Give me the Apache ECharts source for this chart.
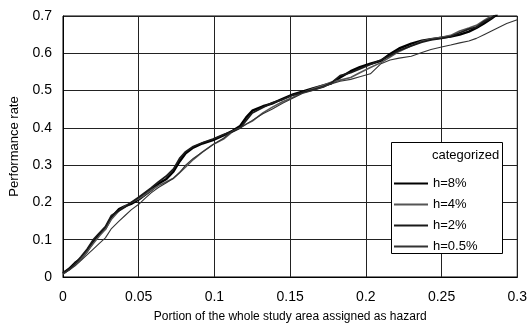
<!DOCTYPE html>
<html>
<head>
<meta charset="utf-8">
<script src="https://cdn.jsdelivr.net/npm/echarts@6/dist/echarts.min.js"></script>
<style>html,body{margin:0;padding:0;background:#fff;}#c{width:530px;height:328px;}</style>
</head>
<body>
<div id="c"></div>
<script>
const xTickLabels = ['0','0.05','0.1','0.15','0.2','0.25','0.3'];
const yTickLabels = ['0','0.1','0.2','0.3','0.4','0.5','0.6','0.7'];
const seriesNames = ['h=8%','h=4%','h=2%','h=0.5%'];
const xs = [0,0.004,0.008,0.012,0.016,0.02,0.024,0.028,0.032,0.037,0.041,0.045,0.05,0.054,0.058,0.063,0.068,0.073,0.077,0.081,0.086,0.092,0.099,0.106,0.112,0.117,0.121,0.125,0.132,0.138,0.145,0.152,0.158,0.165,0.172,0.177,0.183,0.19,0.196,0.203,0.21,0.216,0.222,0.23,0.237,0.243,0.25,0.256,0.262,0.268,0.273,0.278,0.283,0.287,0.293,0.3];
const h8 = [0.01,0.022,0.038,0.05,0.07,0.095,0.115,0.13,0.16,0.182,0.19,0.196,0.208,0.22,0.232,0.25,0.262,0.283,0.31,0.332,0.347,0.358,0.367,0.38,0.392,0.405,0.428,0.446,0.458,0.465,0.478,0.49,0.497,0.506,0.514,0.519,0.535,0.552,0.563,0.572,0.58,0.598,0.613,0.626,0.634,0.638,0.642,0.645,0.65,0.658,0.668,0.68,0.693,0.705];
const h4 = [0.008,0.02,0.035,0.05,0.068,0.09,0.11,0.128,0.155,0.178,0.19,0.2,0.21,0.22,0.232,0.245,0.255,0.265,0.28,0.295,0.315,0.335,0.355,0.37,0.39,0.4,0.41,0.418,0.44,0.455,0.47,0.482,0.494,0.505,0.515,0.522,0.528,0.535,0.548,0.562,0.575,0.59,0.605,0.62,0.632,0.638,0.643,0.648,0.66,0.668,0.675,0.688,0.7,0.712];
const h2 = [0.012,0.02,0.036,0.055,0.075,0.1,0.118,0.135,0.165,0.178,0.188,0.2,0.214,0.226,0.238,0.255,0.27,0.29,0.318,0.336,0.35,0.36,0.37,0.382,0.39,0.4,0.42,0.44,0.455,0.467,0.476,0.488,0.495,0.502,0.51,0.52,0.54,0.548,0.558,0.57,0.582,0.594,0.608,0.62,0.63,0.636,0.64,0.645,0.655,0.665,0.67,0.685,0.695,0.708];
const h05 = [0.008,0.018,0.03,0.045,0.06,0.075,0.09,0.105,0.13,0.15,0.165,0.18,0.195,0.21,0.225,0.24,0.252,0.265,0.28,0.3,0.318,0.335,0.355,0.372,0.392,0.4,0.41,0.42,0.438,0.45,0.466,0.48,0.492,0.5,0.51,0.518,0.525,0.53,0.537,0.545,0.572,0.582,0.587,0.592,0.602,0.61,0.617,0.622,0.628,0.633,0.64,0.65,0.66,0.668,0.68,0.69];

function pairs(ys){ const out=[]; for(let i=0;i<ys.length;i++){ out.push([xs[i], ys[i]]); } return out; }

const styles = [
  {color:'#000', width:2.4},
  {color:'#555', width:1.6},
  {color:'#1a1a1a', width:1.8},
  {color:'#333', width:1.1}
];
const values = [h8,h4,h2,h05];
const FONT = 'Liberation Sans';

const chart = echarts.init(document.getElementById('c'), null, {renderer:'canvas'});
chart.setOption({
  animation:false,
  backgroundColor:'#fff',
  textStyle:{fontFamily:FONT},
  grid:{left:58, right:12, top:16, bottom:46, show:true, borderColor:'#000', borderWidth:1, containLabel:false},
  xAxis:{type:'value', min:0, max:0.3, interval:0.05,
    name:'Portion of the whole study area assigned as hazard', nameLocation:'middle', nameGap:34,
    nameTextStyle:{fontFamily:FONT, fontSize:12, color:'#000'},
    axisLine:{show:true, lineStyle:{color:'#000'}}, axisTick:{show:false},
    axisLabel:{fontFamily:FONT, fontSize:14, color:'#000', margin:13, formatter:(v)=>{const i=Math.round(v/0.05); return xTickLabels[i];}},
    splitLine:{show:true, lineStyle:{color:'#222', width:1}}},
  yAxis:{type:'value', min:0, max:0.7, interval:0.1,
    name:'Performance rate', nameLocation:'middle', nameGap:42,
    nameTextStyle:{fontFamily:FONT, fontSize:13, color:'#000'},
    axisLine:{show:true, lineStyle:{color:'#000'}}, axisTick:{show:false},
    axisLabel:{fontFamily:FONT, fontSize:14, color:'#000', margin:11, formatter:(v)=>{const i=Math.round(v/0.1); return yTickLabels[i];}},
    splitLine:{show:true, lineStyle:{color:'#222', width:1}}},
  graphic:[
    {type:'rect', left:391, top:142, z:50, shape:{width:111, height:111}, style:{fill:'#fff', stroke:'#000', lineWidth:1}},
    {type:'text', left:432, top:149, z:51, style:{text:'categorized', font:'13px "Liberation Sans"', fill:'#000'}}
  ],
  legend:{orient:'vertical', left:394, top:177, z:60, itemWidth:34, itemHeight:2, itemGap:8, padding:0,
    textStyle:{fontFamily:FONT, fontSize:13, color:'#000'},
    data: seriesNames.map((n,i)=>({name:n, icon:'rect', itemStyle:{color:styles[i].color}})),
    selectedMode:false},
  series: seriesNames.map((n,i)=>({
    name:n, type:'line', data:pairs(values[i]), showSymbol:false, symbol:'none', smooth:false, clip:true,
    lineStyle:{color:styles[i].color, width:styles[i].width}, itemStyle:{color:styles[i].color}, z:2+i
  }))
});
</script>
</body>
</html>
